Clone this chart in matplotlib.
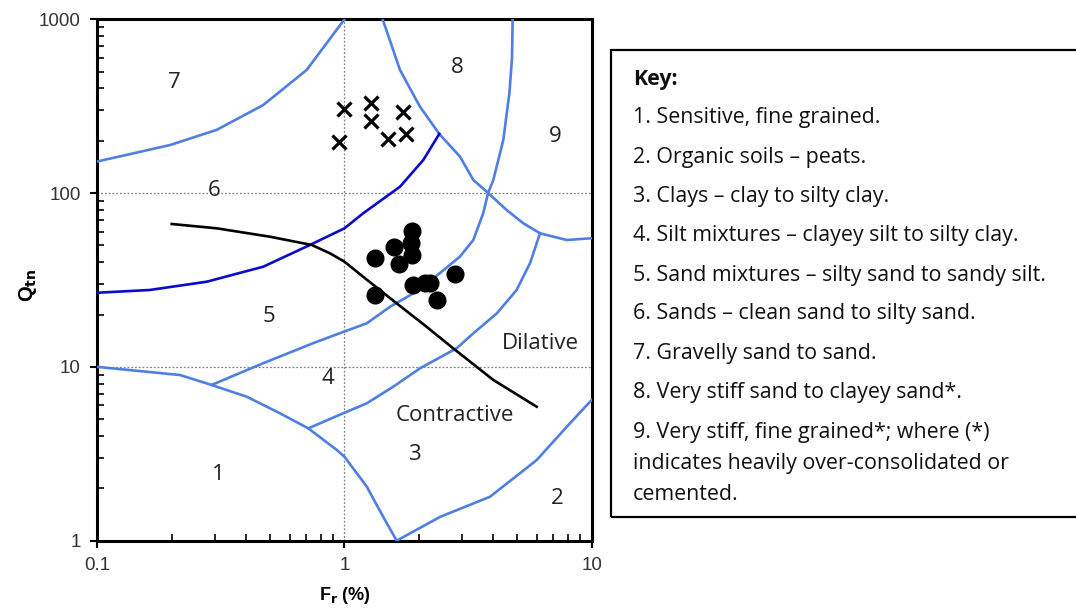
import matplotlib

matplotlib.use("Agg")
import matplotlib.pyplot as plt  # noqa: E402
from matplotlib.patches import Rectangle  # noqa: E402

# Soil behaviour type boundaries (Fr %, Qtn)
zone_7_6_fr = [0.1, 0.197, 0.304, 0.469, 0.703, 1.0]
zone_7_6_q = [152, 189, 231, 321, 511, 1000]

zone_6_5_fr = [0.1, 0.163, 0.277, 0.469, 0.725, 1.0, 1.19, 1.677, 2.084, 2.418]
zone_6_5_q = [26.7, 27.7, 30.9, 37.7, 50.3, 62.7, 76.5, 108.8, 155, 219]

zone_8_fr = [1.427, 1.677, 2.02, 2.418, 2.933, 3.32, 3.76, 4.53, 5.29, 6.18, 7.93, 10]
zone_8_q = [1000, 511, 314, 219, 162, 119, 101.9, 79.9, 67.0, 58.7, 53.7, 55.0]

zone_9_fr = [4.79, 4.76, 4.65, 4.39, 4.00, 3.81, 3.64, 3.32, 2.93, 2.43, 1.90, 1.53,
             1.23, 0.989, 0.748, 0.469, 0.290]
zone_9_q = [1000, 600, 380, 202, 119, 100, 76.5, 53.7, 43.1, 34.6, 26.5, 22.2,
            17.8, 15.9, 13.7, 10.5, 7.87]

zone_3_4_fr = [6.18, 5.63, 4.97, 4.13, 3.32, 2.844, 2.02, 1.575, 1.23, 0.989, 0.714]
zone_3_4_q = [58.7, 39.5, 27.7, 20.3, 15.6, 12.8, 9.81, 7.69, 6.17, 5.41, 4.43]

zone_1_fr = [0.1, 0.216, 0.290, 0.402, 0.548, 0.714, 0.930, 1.0, 1.23, 1.435, 1.626]
zone_1_q = [10, 8.98, 7.87, 6.74, 5.41, 4.43, 3.33, 3.04, 2.05, 1.37, 1.0]

zone_2_fr = [1.626, 2.434, 3.878, 5.99, 8.17, 10]
zone_2_q = [1.0, 1.37, 1.79, 2.91, 4.74, 6.45]

cd_fr = [0.200, 0.304, 0.4995, 0.737, 0.874, 1.0, 1.19, 1.626, 2.15, 2.75, 4.0, 5.99]
cd_q = [66.4, 62.7, 56.1, 50.3, 45.0, 40.3, 33.0, 23.2, 17.0, 12.8, 8.41, 5.90]

# Test data
cross_fr = [1.0, 1.28, 1.28, 1.72, 0.95, 1.50, 1.77]
cross_q = [303, 331, 261, 293, 196, 204, 219]

dot_fr = [1.87, 1.85, 1.59, 1.87, 1.66, 1.33, 1.33, 1.90, 2.12, 2.22, 2.80, 2.37]
dot_q = [60.5, 51.4, 48.8, 44.0, 38.9, 42.2, 25.9, 29.6, 30.3, 30.3, 34.1, 24.3]

zone_labels = ["7", "8", "9", "6", "5", "4", "3", "1", "2"]
zone_label_fr = [0.206, 2.85, 7.10, 0.2965, 0.495, 0.858, 1.91, 0.308, 7.24]
zone_label_q = [430, 525, 213, 104, 19.6, 8.63, 3.15, 2.39, 1.76]

key_title = "Key:"
key_lines = [
    "1. Sensitive, fine grained.",
    "2. Organic soils \u2013 peats.",
    "3. Clays \u2013 clay to silty clay.",
    "4. Silt mixtures \u2013 clayey silt to silty clay.",
    "5. Sand mixtures \u2013 silty sand to sandy silt.",
    "6. Sands \u2013 clean sand to silty sand.",
    "7. Gravelly sand to sand.",
    "8. Very stiff sand to clayey sand*.",
    "9. Very stiff, fine grained*; where (*)",
    "indicates heavily over-consolidated or",
    "cemented.",
]
# baseline of each key line, pixels from the top of the figure
key_baselines = [123.3, 163.3, 202.2, 241.5, 280.5, 319.5, 359.2, 398.2,
                 438.2, 468.7, 499.5]

LIGHT_BLUE = "#4f7fe3"
DARK_BLUE = "#0a0acc"
TEXT_FONT = "Open Sans"
W, H = 1076.0, 608.0

fig = plt.figure(figsize=(10.76, 6.08), dpi=100)
ax = fig.add_axes([0.0904, 0.1107, 0.4595, 0.8576])
ax.set_xscale("log")
ax.set_yscale("log")
ax.set_xlim(0.1, 10)
ax.set_ylim(1, 1000)

for fr, q in [
    (zone_7_6_fr, zone_7_6_q),
    (zone_8_fr, zone_8_q),
    (zone_9_fr, zone_9_q),
    (zone_3_4_fr, zone_3_4_q),
    (zone_1_fr, zone_1_q),
    (zone_2_fr, zone_2_q),
]:
    ax.plot(fr, q, color=LIGHT_BLUE, lw=1.9, solid_joinstyle="round", zorder=3)
ax.plot(zone_6_5_fr, zone_6_5_q, color=DARK_BLUE, lw=1.9,
        solid_joinstyle="round", zorder=3)
ax.plot(cd_fr, cd_q, color="black", lw=1.9, solid_joinstyle="round", zorder=4)

ax.plot(cross_fr, cross_q, "x", color="black", ms=10, mew=2.3, zorder=5)
ax.plot(dot_fr, dot_q, "o", color="black", ms=12, zorder=5)

for lbl, fr, q in zip(zone_labels, zone_label_fr, zone_label_q):
    ax.text(fr, q, lbl, ha="center", va="center", fontsize=16,
            family=TEXT_FONT, color="#222222", zorder=6)
ax.text(6.18, 13.7, "Dilative", ha="center", va="center", fontsize=16,
        family=TEXT_FONT, color="#222222", zorder=6)
ax.text(2.80, 5.22, "Contractive", ha="center", va="center", fontsize=16,
        family=TEXT_FONT, color="#222222", zorder=6)

# dotted gridlines at the inner decades
ax.axvline(1, color="#808080", lw=0.9, ls=(0, (1.5, 1.5)), zorder=1)
for v in [10, 100]:
    ax.axhline(v, color="#808080", lw=0.9, ls=(0, (1.5, 1.5)), zorder=1)

for sp in ax.spines.values():
    sp.set_linewidth(2.2)
    sp.set_color("black")

ax.set_xticks([0.1, 1, 10])
ax.set_xticklabels(["0.1", "1", "10"])
ax.set_yticks([1, 10, 100, 1000])
ax.set_yticklabels(["1", "10", "100", "1000"])
ax.tick_params(which="major", direction="out", length=5, width=1.5,
               labelsize=13.5, labelcolor="#333333", pad=7)
ax.tick_params(which="minor", direction="in", length=5, width=1.2)
for lab in ax.get_xticklabels() + ax.get_yticklabels():
    lab.set_family("Liberation Sans")

ax.set_xlabel("F$_\\mathbf{r}$ (%)", fontsize=13, fontweight="bold",
              family="Liberation Sans", labelpad=8)
ax.set_ylabel("Q$_\\mathbf{tn}$", fontsize=14.5, fontweight="bold",
              family="Liberation Sans", labelpad=5)
ax.yaxis.set_label_coords(-0.118, 0.49)

# key box
box = Rectangle((611 / W, 1 - 517 / H), 0.5, (517 - 50) / H,
                transform=fig.transFigure, fill=False, lw=1.6,
                edgecolor="black", clip_on=False)
fig.patches.append(box)
fig.text(633 / W, 1 - 85 / H, key_title, fontsize=15.4, fontweight="bold",
         family=TEXT_FONT, va="baseline", ha="left", color="#111111")
for line, base in zip(key_lines, key_baselines):
    fig.text(633 / W, 1 - base / H, line, fontsize=15.4, family=TEXT_FONT,
             va="baseline", ha="left", color="#111111")

fig.savefig("out.png", dpi=100)
